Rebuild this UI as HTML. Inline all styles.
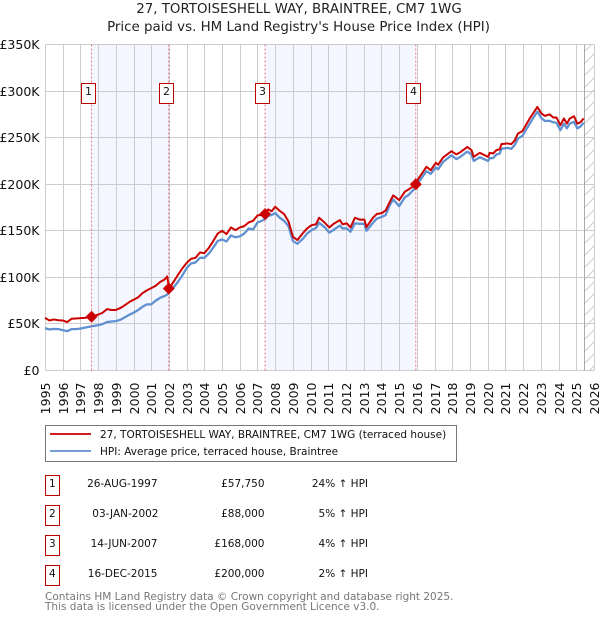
<!DOCTYPE html>
<html>
<head>
<meta charset="utf-8">
<style>
html,body{margin:0;padding:0;background:#fff;}
svg{display:block;font-family:"DejaVu Sans","Liberation Sans",sans-serif;}
</style>
</head>
<body>
<svg id="chart" xmlns="http://www.w3.org/2000/svg" width="600" height="620" viewBox="0 0 600 620">
  <defs>
    <pattern id="hatch" patternUnits="userSpaceOnUse" width="12" height="12">
      <path d="M0 12L12 0M-3 3L3 -3M9 15L15 9" stroke="#ccc" stroke-width="1" fill="none"/>
    </pattern>
  </defs>
  <text x="299" y="13" text-anchor="middle" font-size="13.4" fill="#222">27, TORTOISESHELL WAY, BRAINTREE, CM7 1WG</text>
  <text x="298.5" y="31" text-anchor="middle" font-size="13.4" fill="#222">Price paid vs. HM Land Registry's House Price Index (HPI)</text>
  <g id="bands"></g>
  <g id="grid"></g>
  <g id="ticks"></g>
  <g id="series"></g>
  <g id="sales"></g>

  <g>
    <rect x="45.5" y="425.5" width="411" height="36" fill="#fff" stroke="#777" stroke-width="1"/>
    <line x1="50" x2="91" y1="434" y2="434" stroke="#cc0000" stroke-width="1.8"/>
    <text x="100" y="438" font-size="10.5" fill="#111">27, TORTOISESHELL WAY, BRAINTREE, CM7 1WG (terraced house)</text>
    <line x1="50" x2="91" y1="451" y2="451" stroke="#5f90d0" stroke-width="1.8"/>
    <text x="100" y="455" font-size="10.5" fill="#111">HPI: Average price, terraced house, Braintree</text>
  </g>

  <g font-size="10.5" fill="#111">
    <g>
      <rect x="45.5" y="475.5" width="14" height="20" fill="#fff" stroke="#bb0000"/>
      <text x="52.3" y="487" text-anchor="middle">1</text>
      <text x="157.5" y="487" text-anchor="end">26-AUG-1997</text>
      <text x="264.5" y="487" text-anchor="end">£57,750</text>
      <text x="368" y="487" text-anchor="end">24% ↑ HPI</text>
    </g>
    <g>
      <rect x="45.5" y="505.5" width="14" height="20" fill="#fff" stroke="#bb0000"/>
      <text x="52.3" y="517" text-anchor="middle">2</text>
      <text x="158.5" y="517" text-anchor="end">03-JAN-2002</text>
      <text x="264.5" y="517" text-anchor="end">£88,000</text>
      <text x="368" y="517" text-anchor="end">5% ↑ HPI</text>
    </g>
    <g>
      <rect x="45.5" y="535.5" width="14" height="20" fill="#fff" stroke="#bb0000"/>
      <text x="52.3" y="547" text-anchor="middle">3</text>
      <text x="157.5" y="547" text-anchor="end">14-JUN-2007</text>
      <text x="264.5" y="547" text-anchor="end">£168,000</text>
      <text x="368" y="547" text-anchor="end">4% ↑ HPI</text>
    </g>
    <g>
      <rect x="45.5" y="565.5" width="14" height="20" fill="#fff" stroke="#bb0000"/>
      <text x="52.3" y="577" text-anchor="middle">4</text>
      <text x="157.5" y="577" text-anchor="end">16-DEC-2015</text>
      <text x="264.5" y="577" text-anchor="end">£200,000</text>
      <text x="368" y="577" text-anchor="end">2% ↑ HPI</text>
    </g>
  </g>
  <text x="45" y="600" font-size="10.5" fill="#777">Contains HM Land Registry data © Crown copyright and database right 2025.</text>
  <text x="45" y="610" font-size="10.5" fill="#777">This data is licensed under the Open Government Licence v3.0.</text>
</svg>
<script>
var yearTicks = [1995,1996,1997,1998,1999,2000,2001,2002,2003,2004,2005,2006,2007,2008,2009,2010,2011,2012,2013,2014,2015,2016,2017,2018,2019,2020,2021,2022,2023,2024,2025,2026];
var valueTicks = [0,50,100,150,200,250,300,350];
var valueTickLabels = ['£0','£50K','£100K','£150K','£200K','£250K','£300K','£350K'];
var seriesDates = [1995,1995.25,1995.5,1995.75,1996,1996.25,1996.5,1996.75,1997,1997.25,1997.65,1998,1998.25,1998.5,1998.75,1999,1999.25,1999.5,1999.75,2000,2000.25,2000.5,2000.75,2001,2001.25,2001.5,2001.75,2001.9,2002.01,2002.25,2002.5,2002.75,2003,2003.25,2003.5,2003.75,2004,2004.25,2004.5,2004.75,2005,2005.25,2005.5,2005.75,2006,2006.25,2006.5,2006.75,2007,2007.25,2007.45,2007.6,2007.8,2008,2008.25,2008.5,2008.75,2009,2009.25,2009.54,2009.8,2010.05,2010.3,2010.48,2010.8,2011.05,2011.3,2011.65,2011.8,2012.04,2012.25,2012.5,2012.77,2013.03,2013.15,2013.52,2013.73,2014.03,2014.24,2014.47,2014.66,2015,2015.32,2015.5,2015.96,2016.05,2016.54,2016.78,2017.07,2017.2,2017.48,2017.95,2018.23,2018.42,2018.85,2019.08,2019.21,2019.55,2020.02,2020.11,2020.3,2020.49,2020.68,2020.77,2021.13,2021.33,2021.52,2021.71,2021.96,2022.37,2022.56,2022.8,2023.03,2023.22,2023.5,2023.69,2023.88,2024.1,2024.3,2024.47,2024.63,2024.87,2025.06,2025.23,2025.42];
var priceValues = [56.5,53.7,54.8,54,53.7,52,55.5,55.8,56.2,56.5,57.75,60,62,65.9,65,65,67,70,73.4,76,78.4,83,86,88.4,91,95,97.7,101,88,95,102.4,109.5,115.6,120,121,126.7,126,131.7,139,147,150,146.5,153.6,150.7,153.6,155,159,160.7,166.5,167,168,173,171,175.8,171.5,168,160,143.5,140,147,152.5,156,157,164,158.6,153.6,157.5,161.5,157,158,153.6,164,162,162,154,164,168,169,172,181,188,183,192,194,200,205,218.7,215,223,221,228.7,235.5,232,234,240,236.6,229.4,233.7,229.4,233.7,233,236.6,237.5,243,243.8,243,247,254.5,257,270.6,276,283,276,273.4,275,271.7,271.7,263.4,270.6,265,270.6,273,265,266.5,270.6];
var hpiValues = [45.5,44,44.7,44.4,43.3,42.2,44.4,44.4,45,46,47.5,48.7,49.8,52,52.6,53,54.4,57,59.8,62,64.8,68.4,71,71,75,78,80,81.5,84,89,95,102,110,115,116,121,121,125.6,132,139,140.7,138.5,145,143,144,147,152.5,151.4,159,160.7,163,166,167,169,164,160.7,155,139,136,141,147,150.7,153,158.6,153.6,148,151,155.6,152.5,152.5,149,158,157.5,157.5,150,158.6,163,165,167,177.6,183.6,176.5,186,188,197,201,214,211,218,216,224,231,227,229,235,232,225,229,225,228,228,232,233,238,239,238,242,249,252,265,271,278,271,268,268,266.5,266,258,265,260,265,267,260,262,266];
var saleDates = [1997.65,2002.01,2007.45,2015.96];
var salePrices = [57.75,88,168,200];
var saleLabels = ['1','2','3','4'];
var shadedBands = [[1997.65,2002.01],[2007.45,2015.96]];
var dataEndDate = 2025.45;

var NS = 'http://www.w3.org/2000/svg';
function make(parent, tag, attrs, text){
  var el = document.createElementNS(NS, tag);
  for (var k in attrs) el.setAttribute(k, attrs[k]);
  if (text !== undefined) el.textContent = text;
  parent.appendChild(el);
  return el;
}
function xScale(t){ return 45 + (t - 1995) * 17.71; }
function yScale(v){ return 370.5 - v * 0.9314; }
function snap(p){ return Math.floor(p) + 0.5; }

var bandsG = document.getElementById('bands');
var gridG = document.getElementById('grid');
var ticksG = document.getElementById('ticks');
var seriesG = document.getElementById('series');
var salesG = document.getElementById('sales');
var plotLeft = snap(xScale(yearTicks[0]) + 0.45);
var plotRight = snap(xScale(yearTicks[yearTicks.length - 1]) + 0.45);
var plotTop = snap(yScale(valueTicks[valueTicks.length - 1]));
var plotBottom = snap(yScale(valueTicks[0]));

shadedBands.forEach(function(b){
  var r = make(bandsG, 'rect', {x: xScale(b[0]) - 0.4, y: plotTop, width: xScale(b[1]) - xScale(b[0]), height: plotBottom - plotTop, fill: '#f4f7ff'});
  
  
});
var hatchRect = make(bandsG, 'rect', {x: xScale(dataEndDate), y: plotTop, width: plotRight - xScale(dataEndDate), height: plotBottom - plotTop, fill: 'url(#hatch)'});



yearTicks.forEach(function(y){
  var px = snap(xScale(y) + 0.45);
  var g = make(gridG, 'line', {x1: px, x2: px, y1: plotTop, y2: plotBottom, stroke: '#ccc', 'stroke-width': 1});
  
  
  var t = make(ticksG, 'text', {x: 0, y: 0, transform: 'translate(' + (px + 4.5) + ',382.5) rotate(-90)', 'text-anchor': 'end', 'font-size': 12.5, fill: '#111'}, String(y));
  
  
});
valueTicks.forEach(function(v, i){
  var py = snap(yScale(v));
  var g = make(gridG, 'line', {x1: plotLeft, x2: plotRight, y1: py, y2: py, stroke: '#ccc', 'stroke-width': 1});
  
  
  var t = make(ticksG, 'text', {x: 39.5, y: py + 4.5, 'text-anchor': 'end', 'font-size': 12.5, fill: '#111'}, valueTickLabels[i]);
  
  
});
var endLine = make(gridG, 'line', {x1: snap(xScale(dataEndDate)), x2: snap(xScale(dataEndDate)), y1: plotTop, y2: plotBottom, stroke: '#aaa', 'stroke-width': 1});



function pathFor(values){
  return values.map(function(v, i){
    return (i ? 'L' : 'M') + xScale(seriesDates[i]).toFixed(2) + ' ' + yScale(v).toFixed(2);
  }).join('');
}
var hpiLine = make(seriesG, 'path', {d: pathFor(hpiValues), fill: 'none', stroke: '#5f90d0', 'stroke-width': 2.3, 'stroke-linejoin': 'round'});


var priceLine = make(seriesG, 'path', {d: pathFor(priceValues), fill: 'none', stroke: '#cc0000', 'stroke-width': 2, 'stroke-linejoin': 'round'});



saleDates.forEach(function(d, i){
  var px = xScale(d) - 0.4;
  var py = yScale(salePrices[i]);
  var v = make(salesG, 'line', {x1: px, x2: px, y1: plotTop, y2: plotBottom, stroke: '#dd3344', 'stroke-width': 1, 'stroke-dasharray': '2 2', opacity: 0.65});
  
  
  var m = make(salesG, 'polygon', {points: [[px, py - 6], [px + 6, py], [px, py + 6], [px - 6, py]].join(' '), fill: '#cc0000'});
  
  
  var b = make(salesG, 'rect', {x: Math.floor(px - 9.7) + 0.5, y: 83.5, width: 14, height: 20, fill: '#fff', stroke: '#bb0000', 'stroke-width': 1});
  
  
  var t = make(salesG, 'text', {x: Math.floor(px - 9.7) + 7.5, y: 95, 'text-anchor': 'middle', 'font-size': 11, fill: '#111'}, saleLabels[i]);
  
  
});
</script>
</body>
</html>
